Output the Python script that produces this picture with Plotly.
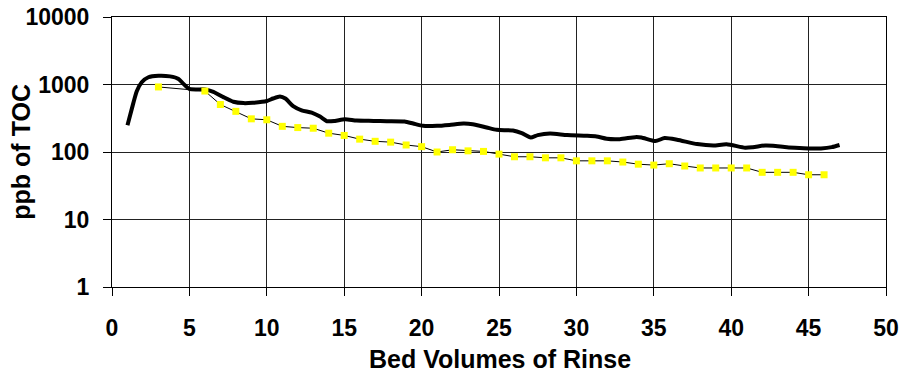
import plotly.graph_objects as go

# Black continuous TOC trace
bv_x = [1, 1.27, 1.6, 1.92, 2.35, 3, 3.75, 4.3, 4.6, 5.0, 5.5, 6.0, 6.55, 7.2, 7.84, 8.5, 9.1,
        10, 10.4, 10.85, 11.2, 11.7, 12.25, 12.9, 13.44, 13.9, 14.4, 15.05, 15.8, 16.9, 17.75,
        18.9, 19.46, 20.1, 21.0, 21.8, 22.7, 23.3, 24.2, 24.85, 25.9, 26.47, 27.05, 27.5, 28.3,
        29.4, 30.66, 31.3, 31.96, 32.8, 33.8, 34.2, 35.1, 35.7, 36.5, 37.8, 38.85, 39.7, 40.9,
        41.4, 42.2, 42.7, 43.6, 44.4, 45.1, 45.8, 46.5, 47]
toc_line = [250, 428, 795, 1080, 1280, 1350, 1320, 1210, 1030, 860, 845, 845, 780, 650, 556, 530, 537,
            569, 620, 665, 620, 478, 415, 384, 335, 286, 289, 305, 292, 289, 286,
            283, 264, 244, 244, 252, 264, 258, 231, 213, 208, 190, 164, 178, 188,
            178, 174, 170, 157, 155, 166, 164, 145, 161, 152, 131, 125, 130, 116,
            118, 125, 124, 118, 115, 113, 113, 118, 127]

# Yellow grab samples
sample_x = [3] + list(range(6, 47))
sample_toc = [920, 800, 505, 400, 310, 300, 240, 230, 225, 190, 176, 155, 144, 140, 127, 120,
              100, 108, 104, 102, 93, 85, 85, 82, 82, 74, 74, 74, 71, 66, 64, 67, 62, 58, 58,
              58, 58, 50, 50, 50, 46, 46]

x_ticks = list(range(0, 51, 5))
y_ticks = [1, 10, 100, 1000, 10000]
y_tick_text = ["1", "10", "100", "1000", "10000"]
x_title = "Bed Volumes of Rinse"
y_title = "ppb of TOC"

font_family = "Liberation Sans, Arial, sans-serif"

fig = go.Figure()
fig.add_trace(go.Scatter(
    x=bv_x, y=toc_line, mode="lines",
    line=dict(color="black", width=4, shape="spline", smoothing=0.6),
    showlegend=False, hoverinfo="skip"))
fig.add_trace(go.Scatter(
    x=sample_x, y=sample_toc, mode="lines+markers",
    line=dict(color="black", width=1),
    marker=dict(symbol="square", size=7, color="#ffff00", line=dict(width=0)),
    showlegend=False))

fig.update_layout(
    width=904, height=373,
    margin=dict(l=112, r=18, t=17, b=86, autoexpand=False),
    paper_bgcolor="white", plot_bgcolor="white",
    font=dict(family=font_family, color="black"),
    annotations=[
        dict(text="<b>" + x_title + "</b>", xref="paper", yref="paper",
             x=0.501, y=-0.265, xanchor="center", yanchor="middle", showarrow=False,
             font=dict(family=font_family, size=25, color="black")),
        dict(text="<b>" + y_title + "</b>", xref="paper", yref="paper",
             x=-0.118, y=0.5, xanchor="center", yanchor="middle", showarrow=False,
             textangle=-90,
             font=dict(family=font_family, size=25, color="black")),
    ],
)
fig.update_xaxes(
    range=[0, 50], tickvals=x_ticks, automargin=False,
    showgrid=True, gridcolor="#222", gridwidth=1,
    showline=True, linecolor="black", linewidth=1, mirror=True,
    ticks="outside", ticklen=8, tickcolor="black", tickwidth=1,
    ticklabelstandoff=12,
    tickfont=dict(family=font_family, size=23, color="black", weight="bold"),
    zeroline=False,
)
fig.update_yaxes(
    type="log", range=[0, 4], tickvals=y_ticks, ticktext=y_tick_text, automargin=False,
    showgrid=True, gridcolor="#222", gridwidth=1,
    showline=True, linecolor="black", linewidth=1, mirror=True,
    ticks="outside", ticklen=8, tickcolor="black", tickwidth=1,
    ticklabelstandoff=9,
    tickfont=dict(family=font_family, size=23, color="black", weight="bold"),
    zeroline=False,
)

fig.write_html(
    "out.html",
    config={"displayModeBar": False},
    post_script="document.body.style.margin='0';document.body.style.overflow='hidden';",
)
